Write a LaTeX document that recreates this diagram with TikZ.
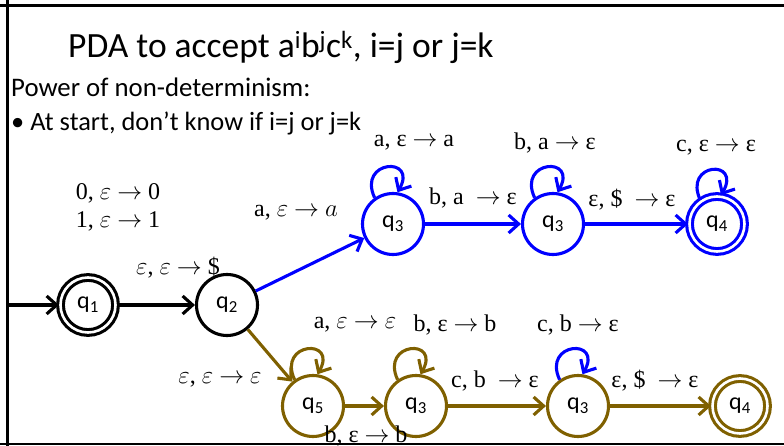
\documentclass[tikz,border=0pt]{standalone}
\usepackage{fontspec}
\setmainfont{Carlito}
\newfontfamily\lblfont{Liberation Serif}
\usetikzlibrary{arrows.meta}

\newcommand{\ar}{$\rightarrow$}
\newcommand{\ve}{$\varepsilon$}

\tikzset{
  state/.style={circle, draw, line width=3.1pt, minimum size=61pt, inner sep=0pt, font=\fontsize{24}{26}\selectfont},
  accept/.style={state, double=white, double distance=2.6pt, minimum size=55pt},
  trans/.style={line width=3.1pt, -{Straight Barb[length=10pt,width=18pt,line width=3.1pt]}},
  selfloop/.style={trans, out=115, in=60, distance=42pt},
  lbl/.style={font=\lblfont\fontsize{24}{28}\selectfont, inner sep=1pt}
}

\begin{document}
\begin{tikzpicture}[x=1pt,y=-1pt]
    % Define colors
    \definecolor{pdablue}{RGB}{0, 0, 255}
    \definecolor{pdabrown}{RGB}{127, 96, 0}

    \useasboundingbox (0,0) rectangle (784,446);

    % Slide frame
    \draw[line width=3.5pt] (0,5.5) -- (784,5.5);
    \draw[line width=3pt] (7.5,0) -- (7.5,446);
    \draw[line width=1.5pt] (0,444) -- (784,444);

    % Title and text
    \node[anchor=base west, font=\fontsize{35.5}{38}\selectfont, inner sep=0pt] (title) at (68,58)
        {PDA to accept a\textsuperscript{i}b\textsuperscript{j}c\textsuperscript{k}, i=j or j=k};
    \node[anchor=base west, font=\fontsize{26.8}{28}\selectfont, inner sep=0pt] (power) at (11,97)
        {Power of non-determinism:};
    \node[anchor=base west, font=\fontsize{26.4}{28}\selectfont, inner sep=0pt] (start) at (11,131)
        {\textbullet\ At start, don't know if i=j or j=k};

    % States
    \node[accept] (q1) at (88,305) {q\textsubscript{1}};
    \node[state] (q2) at (227,305) {q\textsubscript{2}};

    % Upper branch (i=j)
    \node[state, pdablue, text=black] (q3a) at (393,224) {q\textsubscript{3}};
    \node[state, pdablue, text=black] (q3b) at (553,224) {q\textsubscript{3}};
    \node[accept, pdablue, text=black] (q4a) at (717,224) {q\textsubscript{4}};

    % Lower branch (j=k)
    \node[state, pdabrown, text=black] (q5) at (313,406) {q\textsubscript{5}};
    \node[state, pdabrown, text=black] (q3c) at (416,406) {q\textsubscript{3}};
    \node[state, pdabrown, text=black] (q3d) at (578,406) {q\textsubscript{3}};
    \node[accept, pdabrown, text=black] (q4b) at (740,406) {q\textsubscript{4}};

    % Start arrow
    \coordinate (init) at (9,305);
    \draw[trans] (init) -- (q1);

    % Transitions
    \draw[trans] (q1) -- (q2);
    \node[lbl] (l12) at (178,268) {\ve, \ve\ \ar\ \$};
    \node[lbl, align=left] (lstack) at (118,207) {0, \ve\ \ar\ 0\\1, \ve\ \ar\ 1};

    \draw[trans, pdablue] (q2) -- (q3a);
    \node[lbl] (l23) at (296,213) {a, \ve\ \ar\ $a$};
    \draw[trans, pdablue] (q3a) -- (q3b);
    \node[lbl] (l33) at (473,198) {b, a \ \ar\ ε};
    \draw[trans, pdablue] (q3b) -- (q4a);
    \node[lbl] (l34) at (632,200) {ε, \$ \ \ar\ ε};

    \draw[selfloop, pdablue] (q3a.125) to (q3a.82);
    \node[lbl] (lq3a) at (414,143) {a, ε \ar\ a};
    \draw[selfloop, pdablue] (q3b.125) to (q3b.82);
    \node[lbl] (lq3b) at (555,143) {b, a \ar\ ε};
    \draw[selfloop, pdablue] (q4a.125) to (q4a.82);
    \node[lbl] (lq4a) at (716,148) {c, ε \ar\ ε};

    \draw[trans, pdabrown] (q2) -- (q5);
    \node[lbl] (l25) at (220,380) {\ve, \ve\ \ar\ \ve};
    \draw[trans, pdabrown] (q5) -- (q3c);
    \node[lbl] (l5c) at (366,436) {b, ε \ar\ b};
    \draw[trans, pdabrown] (q3c) -- (q3d);
    \node[lbl] (lcd) at (495,381) {c, b \ \ar\ ε};
    \draw[trans, pdabrown] (q3d) -- (q4b);
    \node[lbl] (ldb) at (655,381) {ε, \$ \ \ar\ ε};

    \draw[selfloop, pdabrown] (q5.125) to (q5.82);
    \node[lbl] (lq5) at (355,325) {a, \ve\ \ar\ \ve};
    \draw[selfloop, pdabrown] (q3c.125) to (q3c.82);
    \node[lbl] (lq3c) at (455,325) {b, ε \ar\ b};
    \draw[selfloop, pdablue] (q3d.125) to (q3d.82);
    \node[lbl] (lq3d) at (578,325) {c, b \ar\ ε};

\end{tikzpicture}
\end{document}
